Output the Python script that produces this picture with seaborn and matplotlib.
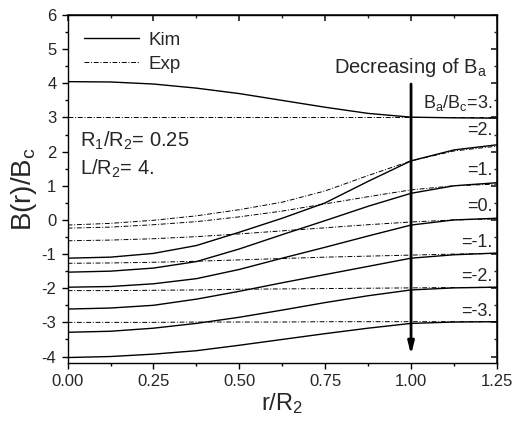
import numpy as np
import pandas as pd
import matplotlib
matplotlib.use("Agg")
import matplotlib.pyplot as plt
import seaborn as sns
from matplotlib.lines import Line2D
from matplotlib.ticker import MultipleLocator, FormatStrFormatter

# r/R2 sample positions
r = [0.0, 0.125, 0.25, 0.375, 0.5, 0.625, 0.75, 0.875, 1.0, 1.125, 1.25]
ba_values = [3, 2, 1, 0, -1, -2, -3]
ba_labels = ["=3.", "=2.", "=1.", "=0.", "=-1.", "=-2.", "=-3."]
label_y = [3.42, 2.63, 1.46, 0.39, -0.66, -1.66, -2.68]

# Kim model curves (solid)
kim = {
    3: [4.05, 4.04, 3.98, 3.86, 3.70, 3.50, 3.30, 3.12, 3.01, 2.99, 2.98],
    2: [-1.12, -1.09, -0.98, -0.75, -0.36, 0.05, 0.50, 1.13, 1.73, 2.05, 2.20],
    1: [-1.53, -1.50, -1.41, -1.22, -0.85, -0.43, -0.02, 0.40, 0.78, 1.00, 1.09],
    0: [-1.97, -1.95, -1.87, -1.72, -1.45, -1.12, -0.80, -0.47, -0.15, 0.00, 0.05],
    -1: [-2.61, -2.58, -2.50, -2.32, -2.09, -1.84, -1.60, -1.36, -1.12, -1.02, -0.97],
    -2: [-3.29, -3.26, -3.17, -3.03, -2.85, -2.64, -2.42, -2.22, -2.05, -1.99, -1.97],
    -3: [-4.03, -4.00, -3.93, -3.83, -3.67, -3.50, -3.33, -3.17, -3.03, -2.99, -2.98],
}
# experimental curves (dash-dot)
exp = {
    3: [3.0, 3.0, 3.0, 3.0, 3.0, 3.0, 3.0, 3.0, 3.0, 3.0, 3.0],
    2: [-0.15, -0.10, -0.01, 0.12, 0.30, 0.52, 0.85, 1.30, 1.73, 2.02, 2.16],
    1: [-0.24, -0.21, -0.14, -0.05, 0.09, 0.26, 0.47, 0.68, 0.88, 1.00, 1.05],
    0: [-0.61, -0.59, -0.55, -0.49, -0.41, -0.32, -0.23, -0.14, -0.06, 0.00, 0.03],
    -1: [-1.27, -1.26, -1.24, -1.21, -1.17, -1.13, -1.09, -1.06, -1.03, -1.00, -0.98],
    -2: [-2.07, -2.07, -2.06, -2.05, -2.03, -2.02, -2.01, -2.00, -1.99, -1.98, -1.97],
    -3: [-3.00, -3.00, -3.00, -2.99, -2.99, -2.99, -2.98, -2.98, -2.98, -2.98, -2.98],
}

rows = []
for src, d in [("Kim", kim), ("Exp", exp)]:
    for ba in ba_values:
        for x, y in zip(r, d[ba]):
            rows.append({"r": x, "B": y, "Ba": f"{src}{ba}", "source": src})
df = pd.DataFrame(rows)

sns.set_theme(style="ticks")
plt.rcParams["font.family"] = ["Liberation Sans", "DejaVu Sans"]
plt.rcParams["mathtext.fontset"] = "custom"
plt.rcParams["mathtext.rm"] = "Liberation Sans"
plt.rcParams["mathtext.it"] = "Liberation Sans"
plt.rcParams["axes.unicode_minus"] = False

fig = plt.figure(figsize=(5.16, 4.30), dpi=100)
ax = fig.add_axes([0.131, 0.155, 0.832, 0.81])

dash_exp = (5, 1.8, 1, 1.8)
sns.lineplot(data=df, x="r", y="B", units="Ba", estimator=None, style="source",
             dashes={"Kim": "", "Exp": dash_exp}, color="black",
             ax=ax, legend=False)
for ln in ax.lines:
    if ln.get_linestyle() == "-":
        ln.set_linewidth(1.0)
    else:
        ln.set_linewidth(0.7)

ax.set_xlim(0, 1.25)
ax.set_ylim(-4.2, 6)
ax.xaxis.set_major_locator(MultipleLocator(0.25))
ax.xaxis.set_minor_locator(MultipleLocator(0.125))
ax.yaxis.set_major_locator(MultipleLocator(1))
ax.yaxis.set_minor_locator(MultipleLocator(0.5))
ax.xaxis.set_major_formatter(FormatStrFormatter("%.2f"))
ax.tick_params(which="both", direction="out", labelsize=12, width=1, color="black")
ax.tick_params(which="major", length=4.5)
ax.tick_params(which="minor", length=2.5)
for s in ax.spines.values():
    s.set_linewidth(1.0)
    s.set_color("black")

# mirrored inward ticks on top and right
top = ax.secondary_xaxis("top")
top.xaxis.set_major_locator(MultipleLocator(0.25))
top.xaxis.set_minor_locator(MultipleLocator(0.125))
top.tick_params(which="both", direction="in", labeltop=False)
top.tick_params(which="major", length=4.5)
top.tick_params(which="minor", length=2.5)
right = ax.secondary_yaxis("right")
right.yaxis.set_major_locator(MultipleLocator(1))
right.yaxis.set_minor_locator(MultipleLocator(0.5))
right.tick_params(which="both", direction="in", labelright=False)
right.tick_params(which="major", length=4.5)
right.tick_params(which="minor", length=2.5)

ax.set_xlabel(r"r/R$_\mathregular{2}$", fontsize=17, labelpad=1)
ax.set_ylabel(r"B(r)/B$_\mathregular{c}$", fontsize=20, labelpad=2)

handles = [Line2D([], [], color="black", lw=1.0),
           Line2D([], [], color="black", lw=0.7, dashes=dash_exp)]
ax.legend(handles, ["Kim", "Exp"], loc="upper left", frameon=False,
          fontsize=13.5, handlelength=2.9, handletextpad=0.5,
          labelspacing=0.35, bbox_to_anchor=(0.0, 1.0))

ax.text(0.035, 2.33, r"R$_\mathregular{1}$/R$_\mathregular{2}$= 0.25", fontsize=14.5, va="center")
ax.text(0.035, 1.5, r"L/R$_\mathregular{2}$= 4.", fontsize=14.5, va="center")
ax.text(0.775, 4.47, r"Decreasing of B$_\mathregular{a}$", fontsize=14.5, va="center")

ax.annotate("", xy=(1.0, -3.95), xytext=(1.0, 3.98),
            arrowprops=dict(arrowstyle="-|>,head_length=0.6,head_width=0.15",
                            color="black", lw=2.0, shrinkA=0, shrinkB=0))

for lab, y in zip(ba_labels, label_y):
    txt = lab
    if lab == "=3.":
        txt = r"B$_\mathregular{a}$/B$_\mathregular{c}$=3."
    ax.text(1.238, y, txt, fontsize=13, ha="right", va="center")

fig.savefig("out.png", dpi=100)
